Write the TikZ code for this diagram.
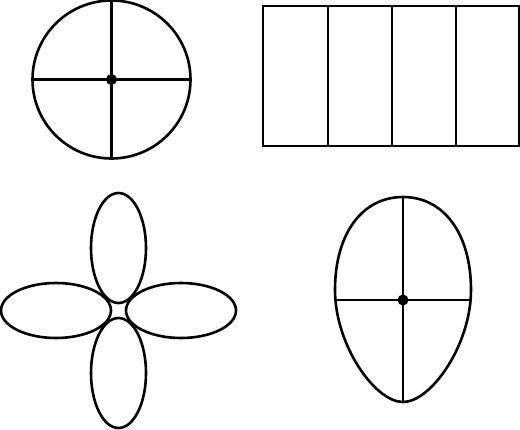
\documentclass[tikz,border=0pt]{standalone}
\begin{document}
\begin{tikzpicture}[x=1pt,y=-1pt,
  shape line/.style={draw=black,line width=2.6pt},
  centre dot/.style={fill=black}]
\useasboundingbox (0,0) rectangle (520,429);
% circle with cross
\coordinate (cc) at (111.5,79.5);
\draw[shape line] (cc) circle[radius=79];
\draw[shape line] ([xshift=-79pt]cc) -- ([xshift=79pt]cc);
\draw[shape line] ([yshift=79pt]cc) -- ([yshift=-79pt]cc);
\fill[centre dot] (cc) circle[radius=5.5];
% rectangle with four columns
\draw[shape line] (263,6) rectangle (519,146);
\foreach \x in {328,392,456} \draw[shape line] (\x,6) -- (\x,146);
% four ellipses
\coordinate (fc) at (118.5,310.5);
\draw[shape line] ([yshift=62.5pt]fc) ellipse[x radius=27.5, y radius=55];
\draw[shape line] ([yshift=-62.5pt]fc) ellipse[x radius=27.5, y radius=55];
\draw[shape line] ([xshift=-62.5pt]fc) ellipse[x radius=55, y radius=27.5];
\draw[shape line] ([xshift=62.5pt]fc) ellipse[x radius=55, y radius=27.5];
% egg with cross
\coordinate (ec) at (403,300);
\draw[shape line] (335,290) .. controls (335,234) and (362,197) .. (403,197)
  .. controls (444,197) and (471,234) .. (471,290)
  .. controls (471,345) and (431,402) .. (403,402)
  .. controls (375,402) and (335,345) .. (335,290) -- cycle;
\draw[shape line] (336,300) -- (470,300);
\draw[shape line] (403,197) -- (403,402);
\fill[centre dot] (ec) circle[radius=5.5];
\end{tikzpicture}
\end{document}
